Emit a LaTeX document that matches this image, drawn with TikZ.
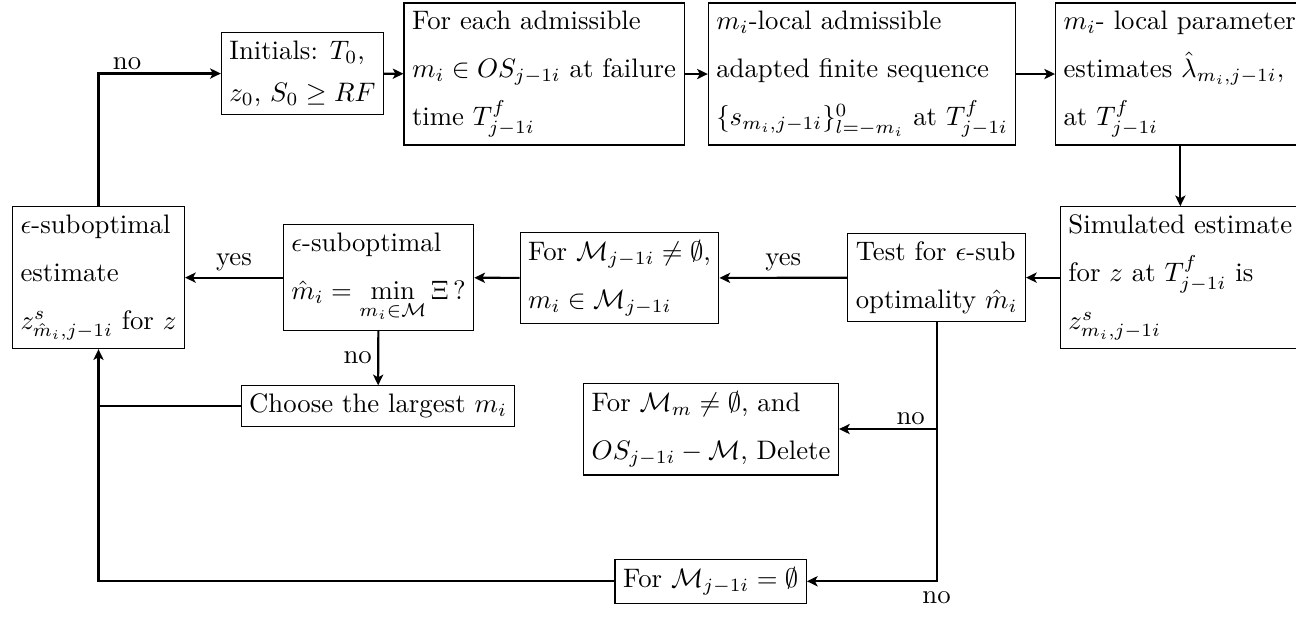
\documentclass[tikz,border=0pt]{standalone}
\usepackage{amsmath,amssymb}
\usepackage{tikz}
\usetikzlibrary{arrows.meta}

\begin{document}
\begin{tikzpicture}[x=1.07cm, y=1.07cm,
  box/.style={draw, align=left, inner sep=3pt, font=\linespread{1.5}\selectfont},
  flow/.style={-{Stealth[length=4pt, width=3.8pt, inset=1pt]}, thick},
  lbl/.style={inner sep=2pt}
]
\useasboundingbox (0,0) rectangle (15.92,-7.63);
% top row
\node[box] (ini) at (3.716,-0.903) {Initials: $T_0$,\\[-2.3pt] $z_0$, $S_0 \geq RF$};
\node[box] (fe)  at (6.683,-0.909) {For each admissible\\ $m_i \in OS_{j-1i}$ at failure\\ time $T^f_{j-1i}$};
\node[box] (loc) at (10.59,-0.909) {$m_i$-local admissible\\ adapted finite sequence\\ $\{s_{m_i,j-1i}\}_{l=-m_i}^{0}$ at $T^f_{j-1i}$};
\node[box, anchor=west] (par) at (12.96,-0.909) {$m_i$- local parameter\\ estimates $\hat{\lambda}_{m_i,j-1i}$,\\ at $T^f_{j-1i}$};
% middle row
\node[box] (fin) at (1.21,-3.41) {$\epsilon$-suboptimal\\ estimate\\ $z^s_{\hat{m}_i,j-1i}$ for $z$};
\node[box] (epm) at (4.65,-3.41) {$\epsilon$-suboptimal\\ $\hat{m}_i = \min\limits_{m_i \in \mathcal{M}} \Xi\,?$};
\node[box] (frm) at (7.61,-3.415) {For $\mathcal{M}_{j-1i} \neq \emptyset$,\\ $m_i \in \mathcal{M}_{j-1i}$};
\node[box] (tst) at (11.505,-3.41) {Test for $\epsilon$-sub\\ optimality $\hat{m}_i$};
\node[box, anchor=west] (sim) at (13.02,-3.41) {Simulated estimate\\ for $z$ at $T^f_{j-1i}$ is\\ $z^s_{m_i,j-1i}$};
% lower boxes
\node[box] (chs) at (4.644,-4.988) {Choose the largest $m_i$};
\node[box] (del) at (8.735,-5.27) {For $\mathcal{M}_m \neq \emptyset$, and\\ $OS_{j-1i} - \mathcal{M}$, Delete};
\node[box] (emp) at (8.73,-7.14) {For $\mathcal{M}_{j-1i} = \emptyset$};

% connectors
\draw[flow] (ini) -- (fe);
\draw[flow] (fe) -- (loc);
\draw[flow] (loc) -- (par);
\draw[flow] (par.south -| sim.north) -- (sim.north);
\draw[flow] (sim) -- (tst);
\draw[flow] (tst) -- node[lbl, above] {yes} (frm);
\draw[flow] (frm) -- (epm);
\draw[flow] (epm) -- node[lbl, above] {yes} (fin);
\draw[flow] (epm) -- node[lbl, left] {no} (chs);
\draw[thick] (chs.west) -- (chs.west -| fin.south);
\draw[flow] (fin.north) |- node[pos=0.5, above right, inner sep=1pt, xshift=4pt] {no} (ini.west);
\draw[flow] (tst.south |- del.east) -- node[pos=0, above left, inner sep=1pt, xshift=-3pt] {no} (del.east);
\draw[flow] (tst.south) |- node[pos=0.5, below] {no} (emp.east);
\draw[flow] (emp.west) -| (fin.south);
\end{tikzpicture}
\end{document}
